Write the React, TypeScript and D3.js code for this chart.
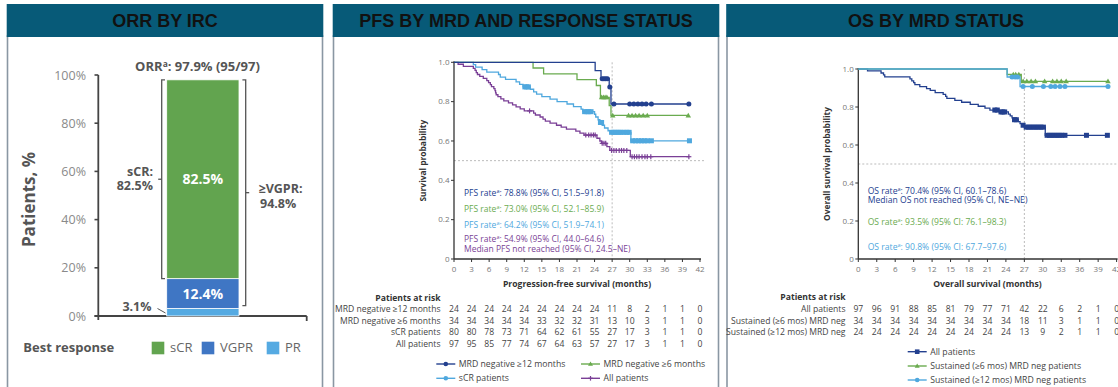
import React from 'react';
import * as d3 from 'd3';

// ---------- ORR by IRC ----------
const responseCategories = ['PR', 'VGPR', 'sCR'];
const responsePercents = [3.1, 12.4, 82.5];
const orrTicks = [0, 20, 40, 60, 80, 100];
const orrTotalLabel = '97.9% (95/97)';
const scrBracketLabel = ['sCR:', '82.5%'];
const vgprBracketLabel = ['\u2265VGPR:', '94.8%'];

// ---------- shared KM axes ----------
const monthTicks = [0, 3, 6, 9, 12, 15, 18, 21, 24, 27, 30, 33, 36, 39, 42];
const survTicks = [0, 0.2, 0.4, 0.6, 0.8, 1.0];
const landmarkMonth = 27;
const medianLine = 0.5;

// ---------- PFS by MRD and response status ----------
const pfsMrd12Steps: [number, number][] = [[0, 1], [24.1, 0.958], [25.1, 0.917], [26.5, 0.875], [26.8, 0.788]];
const pfsMrd12Censors = [25.3, 25.6, 25.9, 26.2, 26.6, 27.3, 30.0, 30.7, 31.4, 32.1, 32.8, 33.7, 40.1];

const pfsMrd6Steps: [number, number][] = [[0, 1], [13.5, 0.971], [15.3, 0.941], [21.0, 0.912], [24.3, 0.882], [25.0, 0.822], [26.5, 0.78], [26.8, 0.73]];
const pfsMrd6Censors = [25.2, 25.5, 25.8, 26.1, 27.1, 29.8, 30.4, 31.0, 31.6, 32.3, 33.0, 40.0];

const pfsScrSteps: [number, number][] = [
  [0, 1], [3.3, 0.988], [3.7, 0.975], [4.8, 0.963], [5.6, 0.95], [7.6, 0.938], [7.9, 0.925], [8.8, 0.913],
  [10.6, 0.9], [11.2, 0.888], [11.8, 0.875], [13.0, 0.863], [13.6, 0.85], [14.1, 0.838], [15.0, 0.825],
  [16.4, 0.813], [17.6, 0.8], [19.3, 0.788], [20.4, 0.775], [21.7, 0.762], [22.0, 0.749], [24.0, 0.736],
  [24.2, 0.722], [24.6, 0.708], [24.9, 0.694], [25.3, 0.68], [25.7, 0.666], [26.3, 0.652], [26.7, 0.644],
  [30.2, 0.601],
];
const pfsScrCensors = [12.1, 12.4, 12.7, 22.3, 22.7, 23.0, 23.4, 25.0, 25.2, 26.9, 27.3, 27.7, 28.1, 28.5, 29.0, 29.5, 29.9, 30.5, 31.0, 31.5, 32.0, 32.5, 33.0, 33.7, 40.2];

const pfsAllSteps: [number, number][] = [
  [0, 1], [0.7, 0.99], [1.6, 0.979], [3.3, 0.969], [3.6, 0.959], [3.8, 0.948], [4.0, 0.938], [4.4, 0.928],
  [5.0, 0.918], [5.6, 0.907], [5.9, 0.897], [6.2, 0.887], [6.4, 0.876], [6.8, 0.866], [7.0, 0.856],
  [7.1, 0.845], [7.2, 0.835], [7.5, 0.825], [8.0, 0.814], [8.5, 0.804], [9.3, 0.794], [10.0, 0.784],
  [10.6, 0.773], [11.3, 0.763], [12.0, 0.753], [13.6, 0.742], [13.9, 0.732], [14.7, 0.722], [15.2, 0.711],
  [15.6, 0.701], [16.4, 0.691], [17.5, 0.68], [18.3, 0.67], [19.2, 0.66], [20.8, 0.65], [21.5, 0.64],
  [22.2, 0.63], [24.4, 0.614], [24.9, 0.6], [25.2, 0.588], [26.1, 0.571], [26.6, 0.552], [30.1, 0.52],
];
const pfsAllCensors = [12.9, 22.5, 23.0, 23.4, 23.8, 24.1, 25.3, 25.6, 25.9, 26.9, 27.3, 27.7, 28.2, 28.6, 29.0, 29.5, 30.4, 30.8, 31.2, 31.6, 32.1, 32.6, 33.0, 33.6, 40.1];

const pfsNotes = [
  'PFS rate\u1d43: 78.8% (95% CI, 51.5\u201391.8)',
  'PFS rate\u1d43: 73.0% (95% CI, 52.1\u201385.9)',
  'PFS rate\u1d43: 64.2% (95% CI, 51.9\u201374.1)',
  'PFS rate\u1d43: 54.9% (95% CI, 44.0\u201364.6)',
  'Median PFS not reached (95% CI, 24.5\u2013NE)',
];

const pfsRiskLabels = ['MRD negative \u226512 months', 'MRD negative \u22656 months', 'sCR patients', 'All patients'];
const pfsRiskMrd12 = [24, 24, 24, 24, 24, 24, 24, 24, 24, 11, 8, 2, 1, 1, 0];
const pfsRiskMrd6 = [34, 34, 34, 34, 34, 33, 32, 32, 31, 13, 10, 3, 1, 1, 0];
const pfsRiskScr = [80, 80, 78, 73, 71, 64, 62, 61, 55, 27, 17, 3, 1, 1, 0];
const pfsRiskAll = [97, 95, 85, 77, 74, 67, 64, 63, 57, 27, 17, 3, 1, 1, 0];
const pfsLegend = ['MRD negative \u226512 months', 'MRD negative \u22656 months', 'sCR patients', 'All patients'];

// ---------- OS by MRD status ----------
const osAllSteps: [number, number][] = [
  [0, 1], [1.5, 0.99], [3.7, 0.979], [4.1, 0.969], [4.3, 0.959], [8.4, 0.948], [8.7, 0.938], [9.0, 0.928],
  [9.2, 0.918], [10.0, 0.907], [11.1, 0.897], [11.7, 0.887], [12.5, 0.876], [13.8, 0.866], [14.2, 0.856],
  [14.4, 0.845], [15.7, 0.835], [16.8, 0.825], [18.2, 0.814], [19.5, 0.804], [20.6, 0.794], [21.4, 0.784],
  [22.9, 0.774], [24.4, 0.763], [24.7, 0.753], [25.0, 0.743], [25.2, 0.733], [26.0, 0.723], [26.3, 0.713],
  [26.6, 0.704], [27.0, 0.694], [30.4, 0.651],
];
const osAllCensors = [22.2, 22.6, 23.2, 23.5, 23.8, 25.4, 25.7, 26.8, 27.3, 27.7, 28.1, 28.5, 28.9, 29.3, 29.7, 30.1, 30.7, 31.1, 31.5, 31.9, 32.3, 32.7, 33.1, 33.6, 37.1, 40.5];

const osMrd6Steps: [number, number][] = [[0, 1], [24.2, 0.971], [26.5, 0.935]];
const osMrd6Censors = [25.2, 25.6, 26.1, 26.8, 27.4, 28.1, 28.8, 30.3, 31.6, 32.3, 33.0, 33.8, 40.6];

const osMrd12Steps: [number, number][] = [[0, 1], [24.2, 0.958], [26.3, 0.908]];
const osMrd12Censors = [25.0, 25.5, 25.9, 26.8, 28.3, 30.1, 31.3, 32.0, 32.8, 33.6, 40.6];

const osNotes = [
  'OS rate\u1d43: 70.4% (95% CI, 60.1\u201378.6)',
  'Median OS not reached (95% CI, NE\u2013NE)',
  'OS rate\u1d43: 93.5% (95% CI: 76.1\u201398.3)',
  'OS rate\u1d43: 90.8% (95% CI: 67.7\u201397.6)',
];

const osRiskLabels = ['All patients', 'Sustained (\u22656 mos) MRD neg', 'Sustained (\u226512 mos) MRD neg'];
const osRiskAll = [97, 96, 91, 88, 85, 81, 79, 77, 71, 42, 22, 6, 2, 1, 0];
const osRiskMrd6 = [34, 34, 34, 34, 34, 34, 34, 34, 34, 18, 11, 3, 1, 1, 0];
const osRiskMrd12 = [24, 24, 24, 24, 24, 24, 24, 24, 24, 13, 9, 2, 1, 1, 0];
const osLegend = ['All patients', 'Sustained (\u22656 mos) MRD neg patients', 'Sustained (\u226512 mos) MRD neg patients'];

// ---------- styling ----------
const BODY = "'Open Sans', 'DejaVu Sans', sans-serif";
const HEAD = "'Liberation Sans', Arial, sans-serif";
const HEADER_BG = '#075a78';
const FRAME = '#8a97a3';
const NAVY = '#23408f';
const GREEN = '#6aab4f';
const LIGHT = '#4fa8de';
const PURPLE = '#7a3f96';
const SCR_GREEN = '#62a44f';
const VGPR_BLUE = '#3f76c4';
const PR_BLUE = '#55aae2';

type Shape = 'circle' | 'square' | 'triangle' | 'plus';

function Marker({ shape, cx, cy, color, s = 2.5 }: { shape: Shape; cx: number; cy: number; color: string; s?: number }) {
  if (shape === 'circle') return <circle cx={cx} cy={cy} r={s} fill={color} />;
  if (shape === 'square') return <rect x={cx - s} y={cy - s} width={2 * s} height={2 * s} fill={color} />;
  if (shape === 'triangle')
    return <path d={`M${cx},${cy - s * 1.1}L${cx + s * 1.1},${cy + s * 0.8}L${cx - s * 1.1},${cy + s * 0.8}Z`} fill={color} />;
  return (
    <g stroke={color} strokeWidth={1.2}>
      <line x1={cx - s} x2={cx + s} y1={cy} y2={cy} />
      <line x1={cx} x2={cx} y1={cy - s} y2={cy + s} />
    </g>
  );
}

function KMCurve({ steps, censors, x, y, color, shape }: {
  steps: [number, number][]; censors: number[]; x: d3.ScaleLinear<number, number>; y: d3.ScaleLinear<number, number>;
  color: string; shape: Shape;
}) {
  const end = Math.max(...censors);
  const pts: [number, number][] = [...steps, [end, steps[steps.length - 1][1]]];
  const line = d3.line<[number, number]>().x(d => x(d[0])).y(d => y(d[1])).curve(d3.curveStepAfter);
  const survAt = (t: number) => {
    let s = 1;
    for (const [tt, ss] of steps) if (tt <= t) s = ss;
    return s;
  };
  return (
    <g>
      <path d={line(pts) || ''} fill="none" stroke={color} strokeWidth={1.3} />
      {censors.map((t, i) => (
        <Marker key={i} shape={shape} cx={x(t)} cy={y(survAt(t))} color={color} />
      ))}
    </g>
  );
}

// Renders "…ᵃ…" with a raised small "a"
function Sup({ text }: { text: string }) {
  const parts = text.split('\u1d43');
  if (parts.length === 1) return <>{text}</>;
  return (
    <>
      {parts[0]}
      <tspan fontSize="65%" dy={-3}>a</tspan>
      <tspan dy={3}>{parts[1]}</tspan>
    </>
  );
}

function Panel({ x0, x1, title }: { x0: number; x1: number; title: string }) {
  return (
    <g>
      <rect x={x0} y={36} width={x1 - x0} height={360} fill="#fff" stroke={FRAME} strokeWidth={1.6} />
      <rect x={x0 - 0.8} y={4} width={x1 - x0 + 1.6} height={33} fill={HEADER_BG} />
      <text x={(x0 + x1) / 2} y={27} textAnchor="middle" fontFamily={HEAD} fontWeight="bold" fontSize={18} fill="#111">
        {title}
      </text>
    </g>
  );
}

function KMAxes({ x, y, yTitle, xTitle, tickColor = '#777' }: {
  x: d3.ScaleLinear<number, number>; y: d3.ScaleLinear<number, number>; yTitle: string; xTitle: string; tickColor?: string;
}) {
  const [xa, xb] = x.range();
  const [ya, yb] = y.range();
  return (
    <g fontFamily={BODY}>
      {/* reference lines */}
      <line x1={x(landmarkMonth)} x2={x(landmarkMonth)} y1={yb} y2={ya} stroke="#aaa" strokeWidth={0.8} strokeDasharray="2,2" />
      <line x1={xa} x2={xb + 4} y1={y(medianLine)} y2={y(medianLine)} stroke="#aaa" strokeWidth={0.8} strokeDasharray="2,2" />
      {/* y axis */}
      <line x1={xa} x2={xa} y1={yb - 1} y2={ya} stroke="#333" strokeWidth={1.3} />
      {survTicks.map(t => (
        <g key={t}>
          <line x1={xa - 3} x2={xa} y1={y(t)} y2={y(t)} stroke="#333" strokeWidth={1} />
          <text x={xa - 4.5} y={y(t) + 2.8} textAnchor="end" fontSize={8} fill={tickColor}>
            {t === 0 ? '0' : t.toFixed(1)}
          </text>
        </g>
      ))}
      {/* x axis */}
      <line x1={xa} x2={xb + 1} y1={ya} y2={ya} stroke="#333" strokeWidth={1.3} />
      {monthTicks.map(t => (
        <g key={t}>
          <line x1={x(t)} x2={x(t)} y1={ya} y2={ya + 3} stroke="#333" strokeWidth={1} />
          <text x={x(t)} y={ya + 12.8} textAnchor="middle" fontSize={8} fill={tickColor}>{t}</text>
        </g>
      ))}
      <text x={(xa + xb) / 2} y={ya + 28.2} textAnchor="middle" fontSize={8.6} fontWeight="bold" fill="#333">{xTitle}</text>
      <text transform={`translate(${xa - 28},${(ya + yb) / 2}) rotate(-90)`} textAnchor="middle" fontSize={8.4} fontWeight="bold" fill="#333">
        {yTitle}
      </text>
    </g>
  );
}

function LegendItem({ x, y, color, shape, label }: { x: number; y: number; color: string; shape: Shape; label: string }) {
  return (
    <g>
      <line x1={x} x2={x + 19} y1={y} y2={y} stroke={color} strokeWidth={1.4} />
      <Marker shape={shape} cx={x + 9.5} cy={y} color={color} s={2.3} />
      <text x={x + 22.5} y={y + 3} fontSize={8.7} fill="#444" fontFamily={BODY}>{label}</text>
    </g>
  );
}

function OrrPanel() {
  const y = d3.scaleLinear().domain([0, 100]).range([316, 75]);
  const barX0 = 166.7;
  const barX1 = 239;
  const stacked = d3.cumsum(responsePercents);
  const colors: Record<string, string> = { PR: PR_BLUE, VGPR: VGPR_BLUE, sCR: SCR_GREEN };
  const top = y(stacked[stacked.length - 1]);
  const scrBottom = y(stacked[1]);
  const prTop = y(stacked[0]);
  const lbx = 161.7;
  const rbx = 245.7;
  return (
    <g fontFamily={BODY}>
      {/* axes */}
      <line x1={98.3} x2={98.3} y1={y(100)} y2={y(0) + 4} stroke="#444" strokeWidth={1.8} />
      {orrTicks.map(t => (
        <g key={t}>
          <line x1={94.5} x2={98.3} y1={y(t)} y2={y(t)} stroke="#444" strokeWidth={1.6} />
          <text x={86} y={y(t) + 4.5} textAnchor="end" fontSize={12.5} fill="#8a8a8a">{t}%</text>
        </g>
      ))}
      <line x1={94.5} x2={306.7} y1={y(0)} y2={y(0)} stroke="#444" strokeWidth={1.8} />
      <line x1={306.7} x2={306.7} y1={y(0)} y2={y(0) + 5} stroke="#444" strokeWidth={1.8} />
      <text transform={`translate(35,${(y(0) + y(100)) / 2 + 4}) rotate(-90)`} textAnchor="middle" fontSize={17} fontWeight="bold" fill="#555">
        Patients, %
      </text>

      {/* stacked bar */}
      {responseCategories.map((c, i) => {
        const lo = i === 0 ? 0 : stacked[i - 1];
        const hi = stacked[i];
        return (
          <rect key={c} x={barX0} y={y(hi)} width={barX1 - barX0} height={y(lo) - y(hi)} fill={colors[c]} stroke="#fff" strokeWidth={0.8} />
        );
      })}
      <text x={(barX0 + barX1) / 2} y={(top + scrBottom) / 2 + 5} textAnchor="middle" fontSize={14} fontWeight="bold" fill="#fff">
        {responsePercents[2].toFixed(1)}%
      </text>
      <text x={(barX0 + barX1) / 2} y={(scrBottom + prTop) / 2 + 5} textAnchor="middle" fontSize={14} fontWeight="bold" fill="#fff">
        {responsePercents[1].toFixed(1)}%
      </text>
      <text x={151.5} y={y(stacked[0]) + 2.5} textAnchor="end" fontSize={12.5} fontWeight="bold" fill="#555">
        {responsePercents[0].toFixed(1)}%
      </text>
      <line x1={157.5} x2={165.5} y1={308.5} y2={313} stroke="#555" strokeWidth={1} />

      {/* ORR label */}
      <text x={197.5} y={71} textAnchor="middle" fontSize={13} fontWeight="bold" fill="#555">
        ORR<tspan fontSize={8.5} dy={-4}>a</tspan><tspan dy={4}>: {orrTotalLabel}</tspan>
      </text>

      {/* sCR bracket */}
      <path d={`M${lbx + 3.3},${top}H${lbx}V${scrBottom}H${lbx + 3.3}`} fill="none" stroke="#555" strokeWidth={1.3} />
      <line x1={lbx - 3.5} x2={lbx} y1={(top + scrBottom) / 2} y2={(top + scrBottom) / 2} stroke="#555" strokeWidth={1.3} />
      <text x={153} y={175.5} textAnchor="end" fontSize={12.5} fontWeight="bold" fill="#555">{scrBracketLabel[0]}</text>
      <text x={153} y={189.8} textAnchor="end" fontSize={12.5} fontWeight="bold" fill="#555">{scrBracketLabel[1]}</text>

      {/* >=VGPR bracket */}
      <path d={`M${rbx - 3.3},${top}H${rbx}V${prTop - 3}H${rbx - 3.3}`} fill="none" stroke="#555" strokeWidth={1.3} />
      <line x1={rbx} x2={rbx + 3.5} y1={(top + prTop - 3) / 2} y2={(top + prTop - 3) / 2} stroke="#555" strokeWidth={1.3} />
      <text x={258.5} y={193} fontSize={12.5} fontWeight="bold" fill="#555">{vgprBracketLabel[0]}</text>
      <text x={260} y={207.5} fontSize={12.5} fontWeight="bold" fill="#555">{vgprBracketLabel[1]}</text>

      {/* legend */}
      <text x={23.3} y={351.5} fontSize={13} fontWeight="bold" fill="#555">Best response</text>
      {[...responseCategories].reverse().map((c, i) => {
        const lx = [151.7, 201.7, 266.7][i];
        return (
          <g key={c}>
            <rect x={lx} y={341.7} width={12.6} height={12.6} fill={colors[c]} />
            <text x={lx + 18.3} y={352} fontSize={13} fill="#666">{c}</text>
          </g>
        );
      })}
    </g>
  );
}

function RiskTable({ x, labelX, titleY, rowYs, labels, rows }: {
  x: d3.ScaleLinear<number, number>; labelX: number; titleY: number; rowYs: number[]; labels: string[]; rows: number[][];
}) {
  return (
    <g fontFamily={BODY} fontSize={8.6} fill="#444">
      <text x={labelX} y={titleY + 3} textAnchor="end" fontWeight="bold" fill="#333">Patients at risk</text>
      {rows.map((r, i) => (
        <g key={i}>
          <text x={labelX} y={rowYs[i] + 3} textAnchor="end">{labels[i]}</text>
          {r.map((v, j) => (
            <text key={j} x={x(monthTicks[j])} y={rowYs[i] + 3} textAnchor="middle">{v}</text>
          ))}
        </g>
      ))}
    </g>
  );
}

function PfsPanel() {
  const x = d3.scaleLinear().domain([0, 42]).range([454, 700]);
  const y = d3.scaleLinear().domain([0, 1]).range([259, 62.3]);
  const noteColors = [NAVY, GREEN, LIGHT, PURPLE, PURPLE];
  const noteYs = [192.7, 209.3, 225, 239, 249];
  return (
    <g>
      <KMAxes x={x} y={y} yTitle="Survival probability" xTitle="Progression-free survival (months)" />
      <KMCurve steps={pfsAllSteps} censors={pfsAllCensors} x={x} y={y} color={PURPLE} shape="plus" />
      <KMCurve steps={pfsScrSteps} censors={pfsScrCensors} x={x} y={y} color={LIGHT} shape="square" />
      <KMCurve steps={pfsMrd6Steps} censors={pfsMrd6Censors} x={x} y={y} color={GREEN} shape="triangle" />
      <KMCurve steps={pfsMrd12Steps} censors={pfsMrd12Censors} x={x} y={y} color={NAVY} shape="circle" />
      <g fontFamily={BODY} fontSize={8.5}>
        {pfsNotes.map((n, i) => (
          <text key={i} x={464} y={noteYs[i] + 2.9} fill={noteColors[i]}>
            <Sup text={n} />
          </text>
        ))}
      </g>
      <RiskTable x={x} labelX={440.5} titleY={297.7} rowYs={[309, 320.7, 332.3, 344]} labels={pfsRiskLabels}
        rows={[pfsRiskMrd12, pfsRiskMrd6, pfsRiskScr, pfsRiskAll]} />
      <LegendItem x={436.3} y={364} color={NAVY} shape="circle" label={pfsLegend[0]} />
      <LegendItem x={581} y={364} color={GREEN} shape="triangle" label={pfsLegend[1]} />
      <LegendItem x={436.3} y={378.3} color={LIGHT} shape="circle" label={pfsLegend[2]} />
      <LegendItem x={581} y={378.3} color={PURPLE} shape="plus" label={pfsLegend[3]} />
    </g>
  );
}

function OsPanel() {
  const x = d3.scaleLinear().domain([0, 42]).range([858.3, 1116.6]);
  const y = d3.scaleLinear().domain([0, 1]).range([259, 69]);
  const noteColors = [NAVY, NAVY, GREEN, LIGHT];
  const noteYs = [190.7, 200.5, 221.7, 246.7];
  return (
    <g>
      <KMAxes x={x} y={y} yTitle="Overall survival probability" xTitle="Overall survival (months)" />
      <KMCurve steps={osAllSteps} censors={osAllCensors} x={x} y={y} color={NAVY} shape="square" />
      <KMCurve steps={osMrd6Steps} censors={osMrd6Censors} x={x} y={y} color={GREEN} shape="triangle" />
      <KMCurve steps={osMrd12Steps} censors={osMrd12Censors} x={x} y={y} color={LIGHT} shape="circle" />
      <g fontFamily={BODY} fontSize={8.6}>
        {osNotes.map((n, i) => (
          <text key={i} x={867.7} y={noteYs[i] + 2.9} fill={noteColors[i]}>
            <Sup text={n} />
          </text>
        ))}
      </g>
      <RiskTable x={x} labelX={845.5} titleY={296.7} rowYs={[309, 320.7, 332.3]} labels={osRiskLabels}
        rows={[osRiskAll, osRiskMrd6, osRiskMrd12]} />
      <LegendItem x={907.7} y={351.7} color={NAVY} shape="square" label={osLegend[0]} />
      <LegendItem x={907.7} y={366} color={GREEN} shape="triangle" label={osLegend[1]} />
      <LegendItem x={907.7} y={380} color={LIGHT} shape="circle" label={osLegend[2]} />
    </g>
  );
}

export default function App() {
  return (
    <svg width={1118} height={387} viewBox="0 0 1118 387" style={{ position: 'absolute', left: 0, top: 0, background: '#fff' }}>
      <rect width={1118} height={387} fill="#fff" />
      <Panel x0={7.5} x1={322.5} title="ORR BY IRC" />
      <Panel x0={333.5} x1={718.5} title="PFS BY MRD AND RESPONSE STATUS" />
      <Panel x0={727} x1={1145} title="OS BY MRD STATUS" />
      <OrrPanel />
      <PfsPanel />
      <OsPanel />
    </svg>
  );
}
